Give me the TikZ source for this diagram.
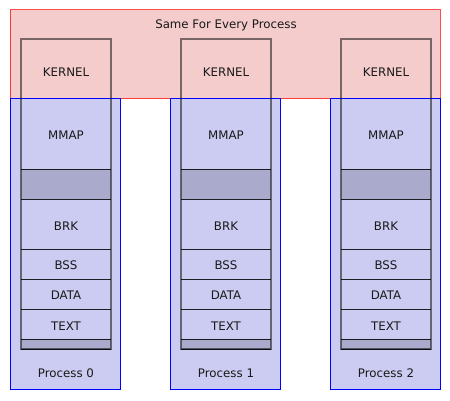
\documentclass[tikz,border=0pt]{standalone}
\usepackage{fontspec}
\setmainfont{DejaVu Sans}
\definecolor{redfill}{HTML}{F4CCCC}
\definecolor{bluefill}{HTML}{CCCCF2}
\definecolor{grayband}{HTML}{AAAACC}
\begin{document}
\begin{tikzpicture}[x=1pt,y=-1pt,
  every node/.style={font=\fontsize{11.8}{13}\selectfont, text=black!90},
  shared/.style={draw=red, draw opacity=0.7, fill=redfill, line width=1pt},
  procbox/.style={draw=blue, fill=bluefill, line width=1pt},
  seg/.style={draw=black, line width=0.9pt, draw opacity=0.85},
  band/.style={fill=grayband},
  colframe/.style={draw=black, draw opacity=0.5, line width=1.2pt}]
\useasboundingbox (0,0) rectangle (450,401);
% shared kernel region
\draw[shared] (10,10) rectangle (440,99);
\node (title) at (226,25) {Same For Every Process};
\foreach \i/\x in {0/10,1/170,2/330}{
  \draw[procbox] (\x,99) rectangle ++(110,290);
  \pgfmathsetmacro{\cx}{\x+11}
  \pgfmathsetmacro{\cr}{\x+101}
  \pgfmathsetmacro{\cm}{\x+56}
  % bands
  \fill[band] (\cx,169) rectangle (\cr,199);
  \fill[band] (\cx,339) rectangle (\cr,349);
  % separators
  \foreach \y in {169,199,249,279,309,339}{
    \draw[seg] (\cx,\y) -- (\cr,\y);
  }
  \draw[seg] (\cx,349) -- (\cr,349);
  \draw[colframe] (\cx,39) rectangle (\cr,349);
  \node (kernel\i) at (\cm,72) {KERNEL};
  \node (mmap\i) at (\cm,135) {MMAP};
  \node (brk\i) at (\cm,226) {BRK};
  \node (bss\i) at (\cm,265) {BSS};
  \node (data\i) at (\cm,295) {DATA};
  \node (text\i) at (\cm,326) {TEXT};
  \node (proc\i) at (\cm,373) {Process \i};
}
\end{tikzpicture}
\end{document}
